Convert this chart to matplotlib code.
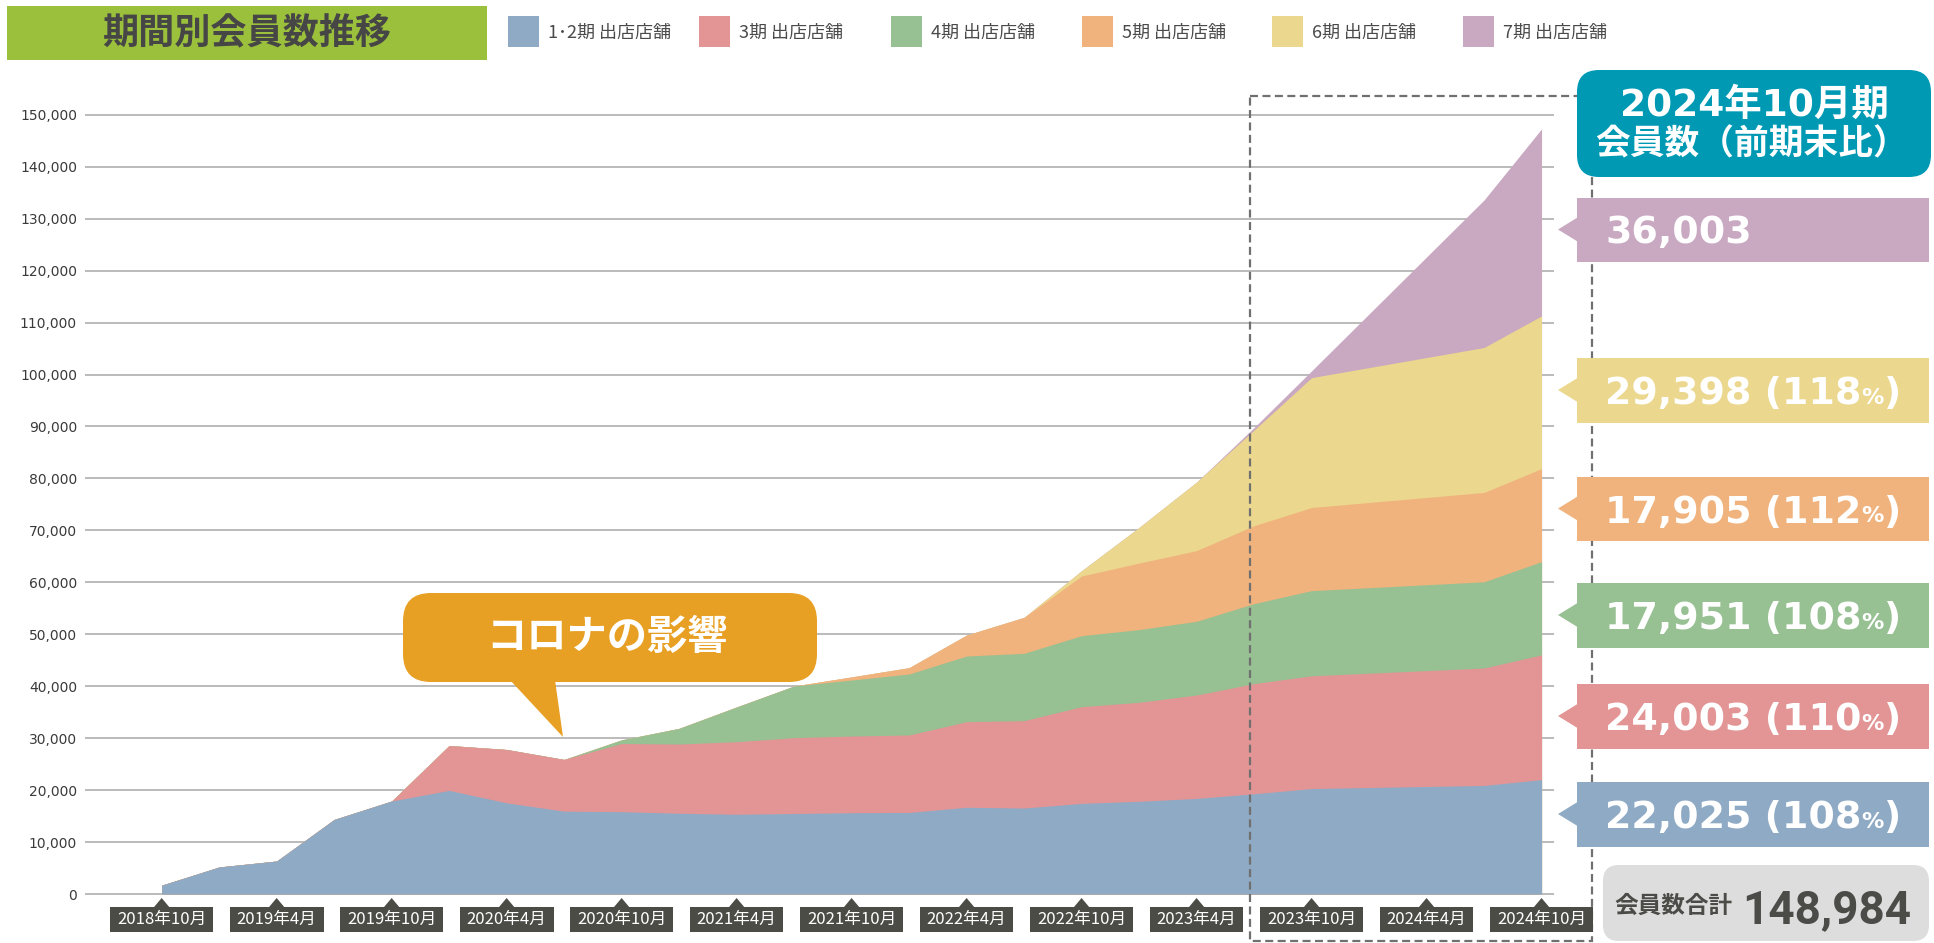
import matplotlib
matplotlib.use('Agg')
import matplotlib.pyplot as plt
from matplotlib.patches import FancyBboxPatch, Polygon, Rectangle
from matplotlib.ticker import FuncFormatter
import numpy as np

CJK = 'Noto Sans CJK JP'
plt.rcParams['font.family'] = [CJK, 'DejaVu Sans']

# ---------------- data ----------------
periods = ['2018-10', '2019-01', '2019-04', '2019-07', '2019-10', '2020-01', '2020-04',
           '2020-07', '2020-10', '2021-01', '2021-04', '2021-07', '2021-10', '2022-01',
           '2022-04', '2022-07', '2022-10', '2023-01', '2023-04', '2023-07', '2023-10',
           '2024-07', '2024-10']
s12 = [1700, 5200, 6350, 14350, 17900, 19950, 17550, 15950, 15850, 15550, 15350, 15500,
       15650, 15700, 16700, 16550, 17450, 17850, 18400, 19300, 20300, 20900, 22025]
s3 = [0, 0, 0, 0, 0, 8640, 10270, 9950, 13120, 13320, 13970, 14590, 14760, 14910, 16470,
      16820, 18610, 19050, 19900, 21200, 21700, 22600, 24003]
s4 = [0, 0, 0, 0, 0, 0, 0, 0, 700, 3020, 6680, 9950, 10780, 11740, 12640, 12960, 13670,
      14000, 14200, 15400, 16400, 16600, 17951]
s5 = [0, 0, 0, 0, 0, 0, 0, 0, 0, 0, 0, 0, 600, 1220, 4040, 6930, 11480, 12800, 13600,
      15000, 16000, 17200, 17905]
s6 = [0, 0, 0, 0, 0, 0, 0, 0, 0, 0, 0, 0, 0, 0, 0, 0, 1030, 6870, 13200, 18400, 25000,
      27900, 29398]
s7 = [0, 0, 0, 0, 0, 0, 0, 0, 0, 0, 0, 0, 0, 0, 0, 0, 0, 0, 0, 500, 1300, 28400, 36003]

series_names = ['1･2期 出店店舗', '3期 出店店舗', '4期 出店店舗', '5期 出店店舗',
                '6期 出店店舗', '7期 出店店舗']
colors = ['#8faac4', '#e39595', '#97c093', '#f0b37d', '#ebd78d', '#c9a9c1']

tick_periods = ['2018-10', '2019-04', '2019-10', '2020-04', '2020-10', '2021-04', '2021-10',
                '2022-04', '2022-10', '2023-04', '2023-10', '2024-04', '2024-10']
tick_labels = ['2018年10月', '2019年4月', '2019年10月', '2020年4月', '2020年10月', '2021年4月',
               '2021年10月', '2022年4月', '2022年10月', '2023年4月', '2023年10月', '2024年4月',
               '2024年10月']
y_ticks = [0, 10000, 20000, 30000, 40000, 50000, 60000, 70000, 80000, 90000, 100000,
           110000, 120000, 130000, 140000, 150000]

right_values = ['22,025', '24,003', '17,951', '17,905', '29,398', '36,003']
right_ratios = ['108', '110', '108', '112', '118', None]
total_label = '会員数合計'
total_value = '148,984'
header_lines = ['2024年10月期', '会員数（前期末比）']
callout_text = 'コロナの影響'
title_text = '期間別会員数推移'

# ---------------- figure ----------------
W, H = 1934, 943
fig = plt.figure(figsize=(W / 100, H / 100), dpi=100)
fig.patch.set_facecolor('white')


def month_index(p):
    y, m = p.split('-')
    return (int(y) - 2018) * 12 + int(m) - 10


months = np.array([month_index(p) for p in periods])
tick_months = [month_index(p) for p in tick_periods]

ax = fig.add_axes([85 / W, (H - 899.2) / H, (1554 - 85) / W, 794.8 / H])
ax.set_xlim(-4, 72.65)
ax.set_ylim(-1000, 152000)
for sp in ax.spines.values():
    sp.set_visible(False)

series = np.vstack([s12, s3, s4, s5, s6, s7])
cum = np.cumsum(series, axis=0)
for i in reversed(range(len(series))):
    ax.fill_between(months, 0, cum[i], color=colors[i], lw=0, zorder=2 + (6 - i) * 0.1)

ax.set_xticks(tick_months)
ax.tick_params(axis='x', length=0, labelbottom=False)
ax.set_yticks(y_ticks)
ax.yaxis.set_major_formatter(FuncFormatter(lambda v, _: f'{int(v):,}'))
ax.tick_params(axis='y', length=0, pad=5.8, labelsize=10, labelcolor='#3a3a3a')
for lbl in ax.get_yticklabels():
    lbl.set_fontfamily('DejaVu Sans')
ax.yaxis.grid(True, color='#b5b5b5', lw=1.3)
ax.xaxis.grid(False)
ax.set_axisbelow(True)

# ---------------- overlay in pixel coordinates ----------------
ov = fig.add_axes([0, 0, 1, 1], zorder=5)
ov.set_xlim(0, W)
ov.set_ylim(H, 0)
ov.axis('off')
ov.patch.set_visible(False)

fig.canvas.draw()
r = fig.canvas.get_renderer()

DARK = '#4c4c47'

# x tick label boxes
for m, lab in zip(tick_months, tick_labels):
    x = ax.transData.transform((m, 0))[0]
    t = ov.text(x, 919, lab, ha='center', va='center', color='white', fontsize=12,
                zorder=11)
    w = t.get_window_extent(r).width
    ov.add_patch(Rectangle((x - w / 2 - 7, 907), w + 14, 25, fc=DARK, ec='none', zorder=10))
    ov.add_patch(Polygon([(x - 8, 907.5), (x + 8, 907.5), (x, 898)], closed=True,
                         fc=DARK, ec='none', zorder=10))

# title
ov.add_patch(Rectangle((7, 6), 480, 54, fc='#9bc03c', ec='none', zorder=2))
ov.text(247, 34, title_text, ha='center', va='center', fontsize=26, fontweight='bold',
        color='#464646', zorder=3)

# legend
leg_px = [508, 699, 891, 1082, 1272, 1463]
for i, name in enumerate(series_names):
    ov.add_patch(Rectangle((leg_px[i], 16), 31, 31, fc=colors[i], ec='none', zorder=2))
    ov.text(leg_px[i] + 40, 33, name, ha='left', va='center', fontsize=13,
            color='#4a4a4a', zorder=3)

# dashed highlight frame
ov.add_patch(Rectangle((1250, 96), 342, 845, fill=False, ec='#707070', lw=1.6,
                       ls=(0, (3.6, 2)), zorder=3))

# header box
ov.add_patch(FancyBboxPatch((1577, 70), 354, 107, boxstyle='round,pad=0,rounding_size=22',
                            fc='#0099b4', ec='none', zorder=6))
ov.text(1754, 106, header_lines[0], ha='center', va='center', fontsize=27,
        fontweight='bold', color='white', family=['DejaVu Sans', CJK], zorder=7)
ov.text(1752, 144, header_lines[1], ha='center', va='center', fontsize=25,
        fontweight='bold', color='white', zorder=7)

# value label boxes
box_tops = [782, 684, 583, 476.5, 358, 197.5]
for i in range(6):
    top = box_tops[i]
    yc = top + 32
    ov.add_patch(Rectangle((1577, top), 352, 64.5, fc=colors[i], ec='none', zorder=6))
    ov.add_patch(Polygon([(1577.5, yc - 12), (1577.5, yc + 12), (1558, yc)], closed=True,
                         fc=colors[i], ec='none', zorder=6))
    if right_ratios[i] is None:
        pieces = [(right_values[i], 27.4)]
    else:
        pieces = [(right_values[i] + ' (' + right_ratios[i], 27.4), ('%', 16), (')', 27.4)]
    x = 1605
    for s, size in pieces:
        t = ov.text(x, yc + 14, s, ha='left', va='baseline', fontsize=size,
                    fontweight='bold', color='white', family='DejaVu Sans', zorder=7)
        x += t.get_window_extent(r).width

# total box
ov.add_patch(FancyBboxPatch((1603, 865), 326, 76, boxstyle='round,pad=0,rounding_size=16',
                            fc='#dcdddc', ec='none', zorder=6))
ov.text(1614, 906, total_label, ha='left', va='center', fontsize=17, fontweight='bold',
        color='#4b4b47', zorder=7)
ov.text(1742, 923, total_value, ha='left', va='baseline', fontsize=33, fontweight='bold',
        color='#4b4b47', family='Roboto', zorder=7)

# corona callout
CO = '#e8a024'
ov.add_patch(FancyBboxPatch((403, 593), 414, 89, boxstyle='round,pad=0,rounding_size=28',
                            fc=CO, ec='none', zorder=6))
ov.add_patch(Polygon([(510, 680), (555, 680), (563, 737)], closed=True, fc=CO, ec='none',
                     zorder=6))
ov.text(607, 637, callout_text, ha='center', va='center', fontsize=29, fontweight='bold',
        color='white', zorder=7)

fig.savefig('out.png', dpi=100)
